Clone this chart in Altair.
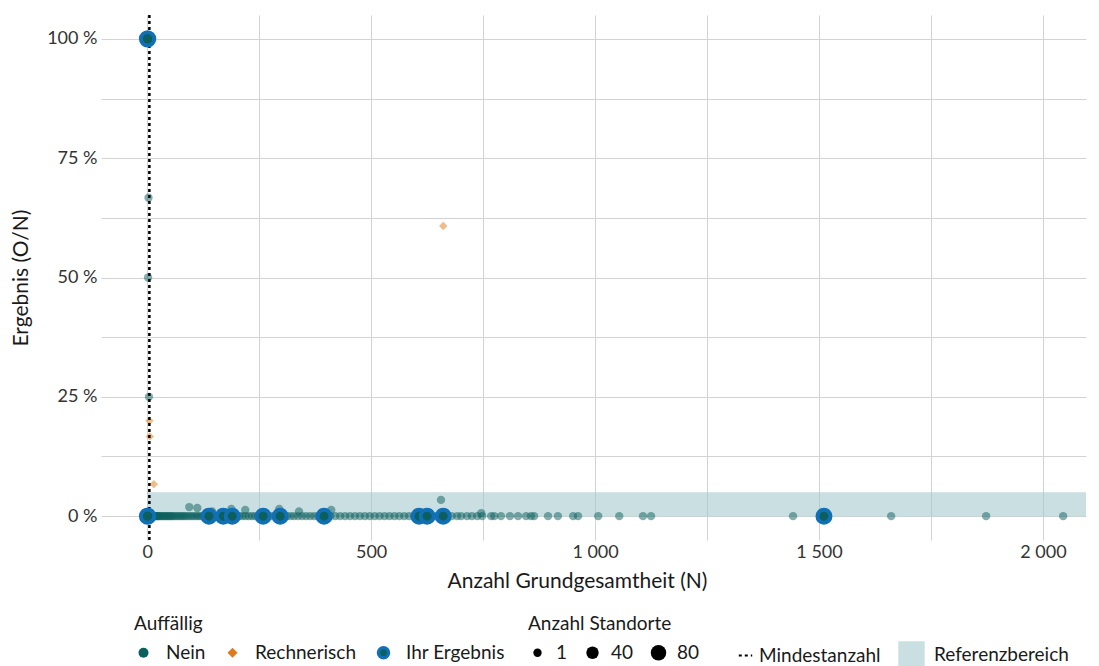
import altair as alt
import pandas as pd

# ---------------- data ----------------
categories = ["Nein", "Rechnerisch", "Ihr Ergebnis"]

# Standorte "Nein" with result 0 %
nein_zero_N = [1, 2, 3, 4, 5, 6, 7, 8, 9, 10, 11, 12, 13, 14, 16, 18, 20, 22, 24, 26, 28,
               31, 34, 37, 40, 43, 46, 49, 52, 55, 58, 62, 66, 70, 74, 78, 82, 86, 91, 96,
               101, 106, 111, 116, 121, 126, 131, 137, 143, 149, 155, 161, 167, 173, 179,
               185, 192, 199, 206, 213, 220, 227, 234, 241, 248, 256, 264, 272, 280, 288,
               296, 304, 312, 320, 328, 337, 346, 355, 364, 373, 382, 391, 400, 409, 420,
               431, 442, 453, 464, 475, 486, 497, 508, 519, 530, 541, 552, 563, 574, 585,
               596, 608, 620, 632, 644, 656, 668, 680, 692, 701, 714, 725, 737, 748, 768,
               775, 790, 810, 828, 846, 857, 864, 895, 917, 951, 962, 1007, 1054, 1107,
               1125, 1442, 1661, 1873, 2045]

# Standorte "Nein" with result > 0 %
nein_pos_N = [3, 2, 4, 94, 112, 145, 188, 219, 295, 339, 411, 656, 746]
nein_pos_y = [66.7, 50.0, 25.0, 1.9, 1.7, 1.0, 1.5, 1.3, 1.5, 1.0, 1.3, 3.4, 0.6]

# Standorte "Rechnerisch"
rech_N = [5, 6, 15, 661]
rech_y = [20.0, 16.7, 6.7, 60.8]

# "Ihr Ergebnis"
ihr_N = [1, 1, 138, 170, 190, 259, 297, 395, 607, 625, 661, 1511]
ihr_y = [100.0, 0.0, 0.0, 0.0, 0.0, 0.0, 0.0, 0.0, 0.0, 0.0, 0.0, 0.0]
ihr_standorte = [52, 52, 47, 47, 47, 47, 47, 47, 47, 47, 47, 47]

mindestanzahl = [5]
ref_lower = 0.0
ref_upper = 5.0
ref_N_start = 0
ref_N_end = 2300

x_ticks = [0, 250, 500, 750, 1000, 1250, 1500, 1750, 2000]
y_ticks = [0, 12.5, 25, 37.5, 50, 62.5, 75, 87.5, 100]

# ---------------- tables ----------------
bg = pd.DataFrame({
    "N": nein_zero_N + nein_pos_N + rech_N,
    "y": [0.0] * len(nein_zero_N) + nein_pos_y + rech_y,
    "Auffällig": ["Nein"] * (len(nein_zero_N) + len(nein_pos_N)) + ["Rechnerisch"] * len(rech_N),
    "Standorte": [1] * (len(nein_zero_N) + len(nein_pos_N) + len(rech_N)),
})
ihr = pd.DataFrame({"N": ihr_N, "y": ihr_y, "Auffällig": ["Ihr Ergebnis"] * len(ihr_N),
                    "Standorte": ihr_standorte})
rule_df = pd.DataFrame({"N": mindestanzahl, "lab": ["Mindestanzahl"] * len(mindestanzahl)})
rect_df = pd.DataFrame({"N": [ref_N_start], "N2": [ref_N_end], "y": [ref_lower], "y2": [ref_upper],
                        "lab": ["Referenzbereich"]})

# ---------------- scales / axes ----------------
FONT = "Lato"
x_scale = alt.Scale(domain=[-103, 2096], nice=False, zero=False)
y_scale = alt.Scale(domain=[-5, 105], nice=False, zero=False)

x_axis = alt.Axis(values=x_ticks, ticks=False, domain=False, labelPadding=3, titlePadding=9,
                  labelExpr="datum.value % 500 == 0 ? replace(format(datum.value, ','), ',', ' ') : ''",
                  title="Anzahl Grundgesamtheit (N)", titleX=476, titleAlign="center")
y_axis = alt.Axis(values=y_ticks, ticks=False, domain=False, labelPadding=4, titlePadding=15,
                  labelExpr="datum.value % 25 == 0 ? datum.value + ' %' : ''",
                  title="Ergebnis (O/N)")

X = alt.X("N:Q", scale=x_scale, axis=x_axis)
Y = alt.Y("y:Q", scale=y_scale, axis=y_axis)

teal = "#0b5f5e"
orange = "#e07a1c"
blue = "#1170b5"

leg_auff = alt.Legend(title="Auffällig", orient="none", legendX=33, legendY=600,
                      direction="horizontal", symbolOpacity=1, symbolSize=100,
                      symbolStrokeWidth=3.5, labelOffset=13, columnPadding=14, titlePadding=9)

fill_enc = alt.Fill("Auffällig:N", scale=alt.Scale(domain=categories, range=[teal, orange, teal]),
                    legend=leg_auff)
shape_enc = alt.Shape("Auffällig:N", scale=alt.Scale(domain=categories, range=["circle", "diamond", "circle"]),
                      legend=leg_auff)
stroke_enc = alt.Stroke("Auffällig:N", scale=alt.Scale(domain=categories,
                                                       range=["transparent", "transparent", blue]),
                        legend=leg_auff)
size_enc = alt.Size("Standorte:Q", scale=alt.Scale(domain=[1, 80], range=[70, 240]),
                    legend=alt.Legend(title="Anzahl Standorte", orient="none", legendX=427, legendY=600,
                                      direction="horizontal", values=[1, 40, 80],
                                      symbolFillColor="black", symbolStrokeColor="black",
                                      symbolStrokeWidth=0, symbolOpacity=1, labelOffset=9,
                                      columnPadding=15, titlePadding=9))

rect = alt.Chart(rect_df).mark_rect(opacity=0.55, clip=True).encode(
    x=X, x2="N2:Q", y=Y, y2="y2:Q",
    color=alt.Color("lab:N", scale=alt.Scale(domain=["Referenzbereich"], range=["#9fc5c8"]),
                    legend=alt.Legend(title=None, orient="none", legendX=797, legendY=626,
                                      symbolType="square", symbolSize=700, symbolStrokeWidth=0,
                                      labelOffset=9))
)

bg_pts = alt.Chart(bg).mark_point(filled=True, opacity=0.5).encode(
    x=X, y=Y, fill=fill_enc, shape=shape_enc, size=size_enc
)

rule = alt.Chart(rule_df).mark_rule(color="black", strokeWidth=2.5).encode(
    x=X,
    strokeDash=alt.StrokeDash("lab:N", scale=alt.Scale(domain=["Mindestanzahl"], range=[[3, 3]]),
                              legend=alt.Legend(title=None, orient="none", legendX=635, legendY=631,
                                                symbolSize=180, symbolStrokeWidth=2, labelOffset=4))
)

ihr_pts = alt.Chart(ihr).mark_point(filled=True, opacity=1, strokeWidth=4).encode(
    x=X, y=Y, fill=fill_enc, shape=shape_enc, stroke=stroke_enc, size=size_enc
)

chart = alt.layer(rect, bg_pts, rule, ihr_pts).properties(
    width=985, height=525,
    padding={"left": 2, "top": 5, "right": 5, "bottom": 0},
).configure_axis(
    labelFont=FONT, labelFontSize=18, labelColor="#333333",
    titleFont=FONT, titleFontSize=21, titleFontWeight="normal", titleColor="#1a1a1a",
    gridColor="#d3d3d3", gridWidth=1,
).configure_legend(
    labelFont=FONT, labelFontSize=19, labelColor="#1a1a1a",
    titleFont=FONT, titleFontSize=19, titleFontWeight="normal", titleColor="#1a1a1a",
    padding=0,
).configure_view(strokeWidth=0)

chart.save("out.html", embed_options={"renderer": "svg", "actions": False})
